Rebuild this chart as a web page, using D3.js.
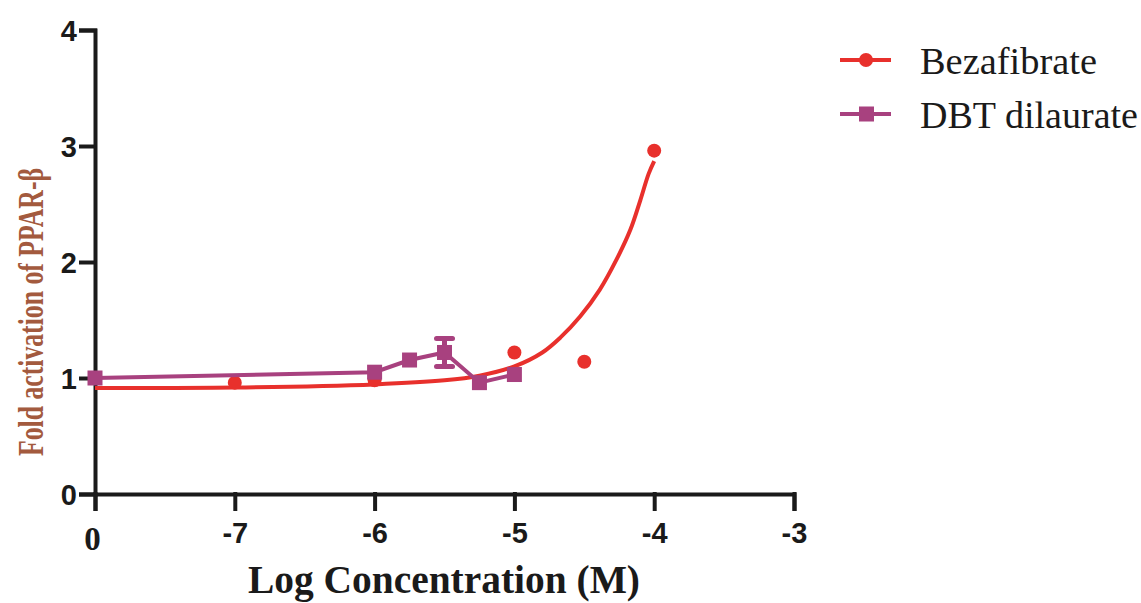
<!DOCTYPE html>
<html>
<head>
<meta charset="utf-8">
<script src="https://cdn.jsdelivr.net/npm/d3@7"></script>
<style>
  body { margin: 0; background: #fff; }
  svg { display: block; }
</style>
</head>
<body>
<svg width="1141" height="603"></svg>
<script>
// measured points, Bezafibrate
var bezaX = [-7, -6, -5, -4.5, -4]
var bezaY = [0.96, 0.98, 1.22, 1.14, 2.96]

// fitted curve for Bezafibrate
var fitX = [-8, -7, -6, -5.5, -5.25, -5, -4.8, -4.67, -4.53, -4.39, -4.27, -4.17, -4.1, -4.04, -4.0]
var fitY = [0.914, 0.918, 0.945, 0.98, 1.02, 1.10, 1.22, 1.35, 1.53, 1.76, 2.02, 2.28, 2.53, 2.76, 2.87]

// DBT dilaurate, connected points (-8 is the control, labelled "0")
var dbtX = [-8, -6, -5.75, -5.5, -5.25, -5]
var dbtY = [1.0, 1.05, 1.155, 1.22, 0.96, 1.03]
var dbtErr = [0, 0, 0, 0.12, 0, 0]

var xTicks = [-8, -7, -6, -5, -4, -3]
var yTicks = [0, 1, 2, 3, 4]
var seriesNames = ["Bezafibrate", "DBT dilaurate"]

var red = "#e8302c", purple = "#a8417f"

var svg = d3.select("svg")

var xScale = d3.scaleLinear().domain([-8, -3]).range([95, 794])
var yScale = d3.scaleLinear().domain([0, 4]).range([494, 30])

// axes
var xAxis = d3.axisBottom(xScale)
    .tickValues(xTicks)
    .tickSize(15)
    .tickSizeOuter(15)
    .tickPadding(13)
    .tickFormat(d => d == -8 ? "0" : d)

var yAxis = d3.axisLeft(yScale)
    .tickValues(yTicks)
    .tickSize(14)
    .tickSizeOuter(14)
    .tickPadding(4)
    .tickFormat(d3.format("d"))

var gx = svg.append("g")
    .attr("transform", "translate(0,494)")
    .call(xAxis)
var gy = svg.append("g")
    .attr("transform", "translate(95,0)")
    .call(yAxis)

svg.selectAll(".domain, .tick line")
    .attr("stroke", "#1a1a1a")
    .attr("stroke-width", 4)
    .attr("stroke-linecap", "square")

svg.selectAll(".tick text")
    .attr("fill", "#1a1a1a")
    .style("font-family", "'Liberation Sans', Arial, sans-serif")
    .style("font-weight", "bold")
    .style("font-size", "29px")

gy.selectAll(".tick text").attr("dy", "0.36em")

// control tick label is set in serif in the original
gx.selectAll(".tick text")
    .filter(d => d == -8)
    .style("font-family", "'Liberation Serif', 'Times New Roman', serif")
    .style("font-size", "33px")
    .attr("dx", -3)
    .attr("dy", "0.84em")

// axis titles
svg.append("text")
    .attr("transform", "translate(43,312) rotate(-90)")
    .attr("text-anchor", "middle")
    .attr("fill", "#a35a3e")
    .attr("textLength", 288)
    .attr("lengthAdjust", "spacingAndGlyphs")
    .style("font-family", "'Liberation Serif', 'Times New Roman', serif")
    .style("font-weight", "bold")
    .style("font-size", "35px")
    .text("Fold activation of PPAR-β")

svg.append("text")
    .attr("x", 444)
    .attr("y", 593)
    .attr("text-anchor", "middle")
    .attr("fill", "#1a1a1a")
    .attr("textLength", 392)
    .attr("lengthAdjust", "spacingAndGlyphs")
    .style("font-family", "'Liberation Serif', 'Times New Roman', serif")
    .style("font-weight", "bold")
    .style("font-size", "39px")
    .text("Log Concentration (M)")

// bezafibrate fit curve
var fitData = fitX.map((x, i) => ({x: x, y: fitY[i]}))

svg.append("path")
    .datum(fitData)
    .attr("d", d3.line()
        .x(d => xScale(d.x))
        .y(d => yScale(d.y))
        .curve(d3.curveCatmullRom))
    .attr("fill", "none")
    .attr("stroke", red)
    .attr("stroke-width", 4)

svg.selectAll("circle.beza")
    .data(bezaX.map((x, i) => ({x: x, y: bezaY[i]})))
    .enter()
    .append("circle")
    .attr("class", "beza")
    .attr("cx", d => xScale(d.x))
    .attr("cy", d => yScale(d.y))
    .attr("r", 7)
    .attr("fill", red)

// dbt dilaurate
var dbtData = dbtX.map((x, i) => ({x: x, y: dbtY[i], e: dbtErr[i]}))

svg.append("path")
    .datum(dbtData)
    .attr("d", d3.line().x(d => xScale(d.x)).y(d => yScale(d.y)))
    .attr("fill", "none")
    .attr("stroke", purple)
    .attr("stroke-width", 4)

var eb = svg.selectAll("g.err")
    .data(dbtData.filter(d => d.e > 0))
    .enter()
    .append("g")
    .attr("class", "err")
eb.append("line")
    .attr("x1", d => xScale(d.x)).attr("x2", d => xScale(d.x))
    .attr("y1", d => yScale(d.y + d.e)).attr("y2", d => yScale(d.y - d.e))
    .attr("stroke", purple).attr("stroke-width", 5)
eb.selectAll("line.cap")
    .data(d => [d.y + d.e, d.y - d.e].map(v => ({x: d.x, v: v})))
    .enter()
    .append("line")
    .attr("class", "cap")
    .attr("x1", d => xScale(d.x) - 8).attr("x2", d => xScale(d.x) + 8)
    .attr("y1", d => yScale(d.v)).attr("y2", d => yScale(d.v))
    .attr("stroke", purple).attr("stroke-width", 5)
    .attr("stroke-linecap", "round")

svg.selectAll("rect.dbt")
    .data(dbtData)
    .enter()
    .append("rect")
    .attr("class", "dbt")
    .attr("x", d => xScale(d.x) - 7.5)
    .attr("y", d => yScale(d.y) - 7.5)
    .attr("width", 15)
    .attr("height", 15)
    .attr("fill", purple)

// legend
var legendLen = [177, 218]
var legend = svg.selectAll("g.legend")
    .data(seriesNames)
    .enter()
    .append("g")
    .attr("class", "legend")
    .attr("transform", (d, i) => "translate(0," + (60 + i * 54) + ")")

legend.append("line")
    .attr("x1", 840).attr("x2", 891)
    .attr("stroke", (d, i) => i == 0 ? red : purple)
    .attr("stroke-width", 4)

legend.filter((d, i) => i == 0).append("circle")
    .attr("cx", 866).attr("r", 7).attr("fill", red)
legend.filter((d, i) => i == 1).append("rect")
    .attr("x", 859).attr("y", -7.5).attr("width", 15).attr("height", 15).attr("fill", purple)

legend.append("text")
    .attr("x", 920)
    .attr("y", 14)
    .attr("fill", "#1a1a1a")
    .attr("textLength", (d, i) => legendLen[i])
    .attr("lengthAdjust", "spacingAndGlyphs")
    .style("font-family", "'Liberation Serif', 'Times New Roman', serif")
    .style("font-size", "38px")
    .text(d => d)
</script>
</body>
</html>
